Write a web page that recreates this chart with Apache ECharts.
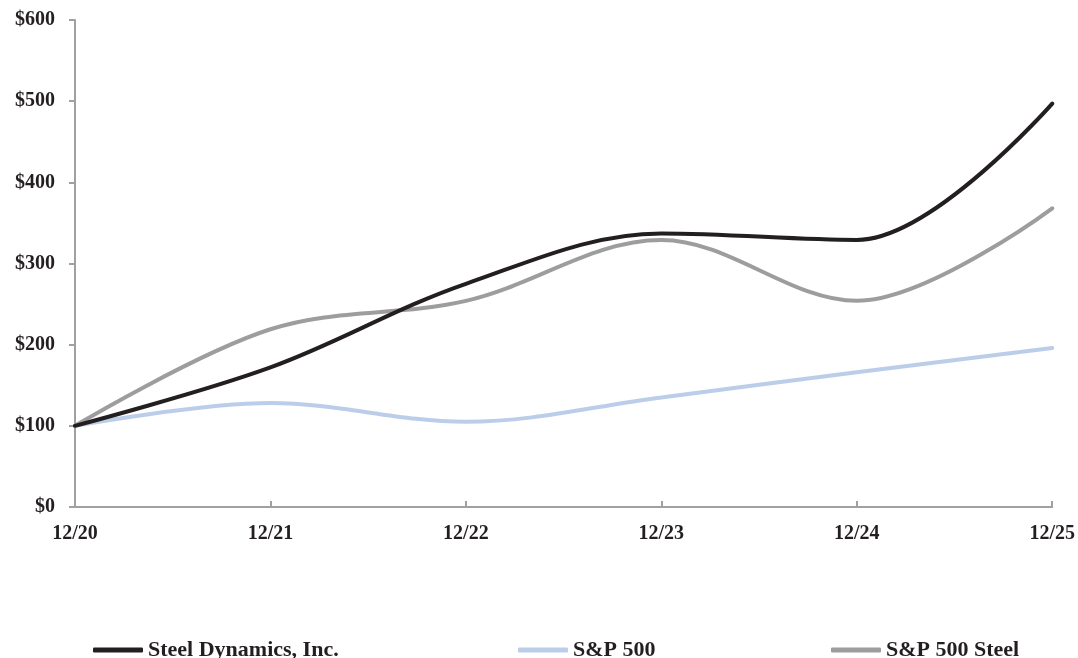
<!DOCTYPE html>
<html><head><meta charset="utf-8">
<script src="https://cdn.jsdelivr.net/npm/echarts@6/dist/echarts.min.js"></script>
<style>html,body{margin:0;padding:0;background:#fff}#c{width:1078px;height:658px}</style>
</head><body><div id="c"></div>
<script>
const categories = ['12/20','12/21','12/22','12/23','12/24','12/25'];
const steelDynamics = [100, 172, 275, 337, 329, 497];
const sp500 = [100, 128, 105, 135, 166, 196];
const sp500Steel = [100, 219, 254, 329, 254, 368];
const yTicks = {min: 0, max: 600, interval: 100};

const font = '"Liberation Serif", "Times New Roman", serif';
const chart = echarts.init(document.getElementById('c'));
const mk = (name, data, color) => ({
  name, type: 'line', data, smooth: 0.35, symbol: 'none',
  lineStyle: {color, width: 4, cap: 'round'}, itemStyle: {color}
});
const legendCommon = {
  itemWidth: 50, itemHeight: 5, icon: 'roundRect', top: 634, itemGap: 8,
  textStyle: {fontFamily: font, fontWeight: 'bold', fontSize: 22, color: '#231f20'}
};
chart.setOption({
  animation: false,
  grid: {left: 75, right: 23, top: 20, bottom: 151},
  legend: [
    Object.assign({left: 88, data: ['Steel Dynamics, Inc.']}, legendCommon),
    Object.assign({left: 513, data: ['S&P 500']}, legendCommon),
    Object.assign({left: 826, data: ['S&P 500 Steel']}, legendCommon)
  ],
  xAxis: {
    type: 'category', data: categories, boundaryGap: false,
    axisLine: {lineStyle: {color: '#a0a0a2', width: 2}},
    axisTick: {inside: true, length: 6, lineStyle: {color: '#a0a0a2', width: 2}},
    axisLabel: {fontFamily: font, fontWeight: 'bold', fontSize: 20, color: '#231f20', margin: 17}
  },
  yAxis: {
    type: 'value', min: yTicks.min, max: yTicks.max, interval: yTicks.interval,
    splitLine: {show: false},
    axisLine: {show: true, lineStyle: {color: '#a0a0a2', width: 2}},
    axisTick: {show: true, length: 6, lineStyle: {color: '#a0a0a2', width: 2}},
    axisLabel: {fontFamily: font, fontWeight: 'bold', fontSize: 20, color: '#231f20', margin: 20,
      formatter: v => '$' + v}
  },
  series: [
    mk('S&P 500', sp500, '#bccde9'),
    mk('S&P 500 Steel', sp500Steel, '#9d9d9f'),
    mk('Steel Dynamics, Inc.', steelDynamics, '#231f20')
  ]
});
</script></body></html>
